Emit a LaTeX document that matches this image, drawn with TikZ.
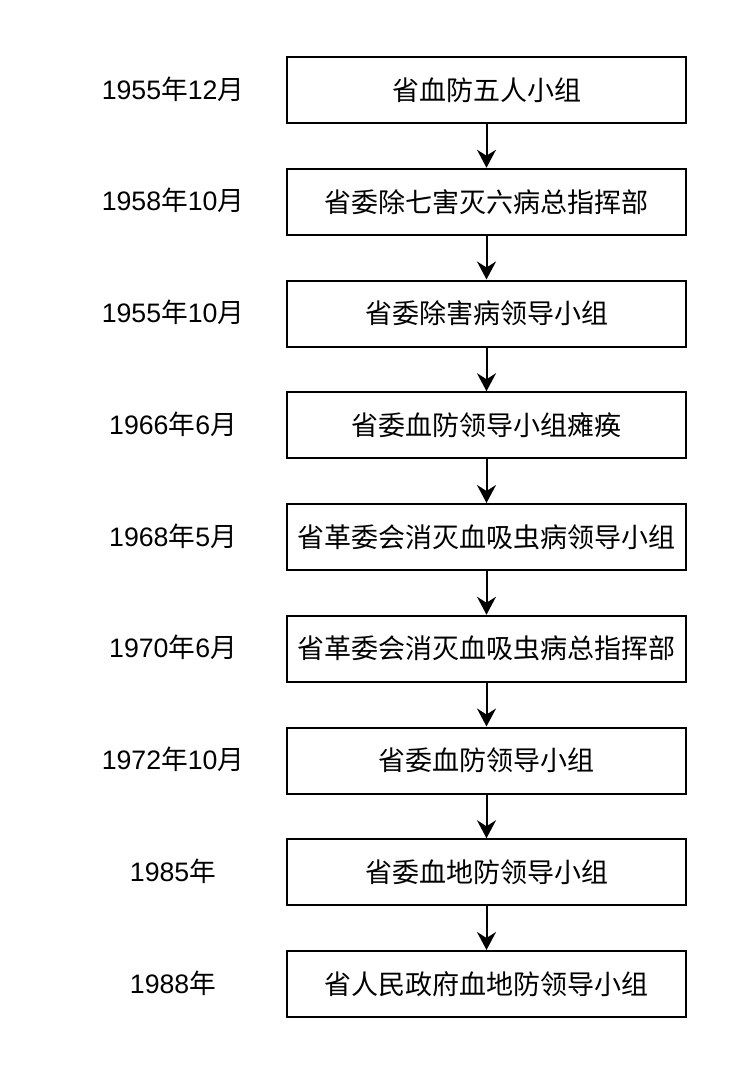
\documentclass[tikz,border=0pt]{standalone}
\usepackage{fontspec}
\setmainfont{Liberation Sans}
\newfontfamily\cjk{Noto Sans CJK SC}
\usetikzlibrary{arrows.meta}
\begin{document}
\begin{tikzpicture}[x=1pt,y=-1pt,
  stagebox/.style={draw=black,line width=2pt,minimum width=399pt,minimum height=66pt,
    inner sep=0pt,font=\fontsize{27}{31}\selectfont\cjk},
  datelabel/.style={inner sep=0pt,font=\fontsize{26.7}{31}\selectfont},
  flow/.style={line width=2pt,-{Stealth[length=18pt,width=19pt,inset=6pt]}}]
\useasboundingbox (0,0) rectangle (754,1086);
\foreach \i/\d/\t in {
  1/{1955{\cjk 年}12{\cjk 月}}/省血防五人小组,
  2/{1958{\cjk 年}10{\cjk 月}}/省委除七害灭六病总指挥部,
  3/{1955{\cjk 年}10{\cjk 月}}/省委除害病领导小组,
  4/{1966{\cjk 年}6{\cjk 月}}/省委血防领导小组瘫痪,
  5/{1968{\cjk 年}5{\cjk 月}}/省革委会消灭血吸虫病领导小组,
  6/{1970{\cjk 年}6{\cjk 月}}/省革委会消灭血吸虫病总指挥部,
  7/{1972{\cjk 年}10{\cjk 月}}/省委血防领导小组,
  8/{1985{\cjk 年}}/省委血地防领导小组,
  9/{1988{\cjk 年}}/省人民政府血地防领导小组}{
  \node[stagebox] (b\i) at (486.5,{90+111.75*(\i-1)}) {\t};
  \node[datelabel] (d\i) at (173,{89+111.75*(\i-1)}) {\d};
}
\foreach \i [evaluate=\i as \j using int(\i+1)] in {1,...,8}{
  \draw[flow] (b\i) -- (b\j);
}
\end{tikzpicture}
\end{document}
